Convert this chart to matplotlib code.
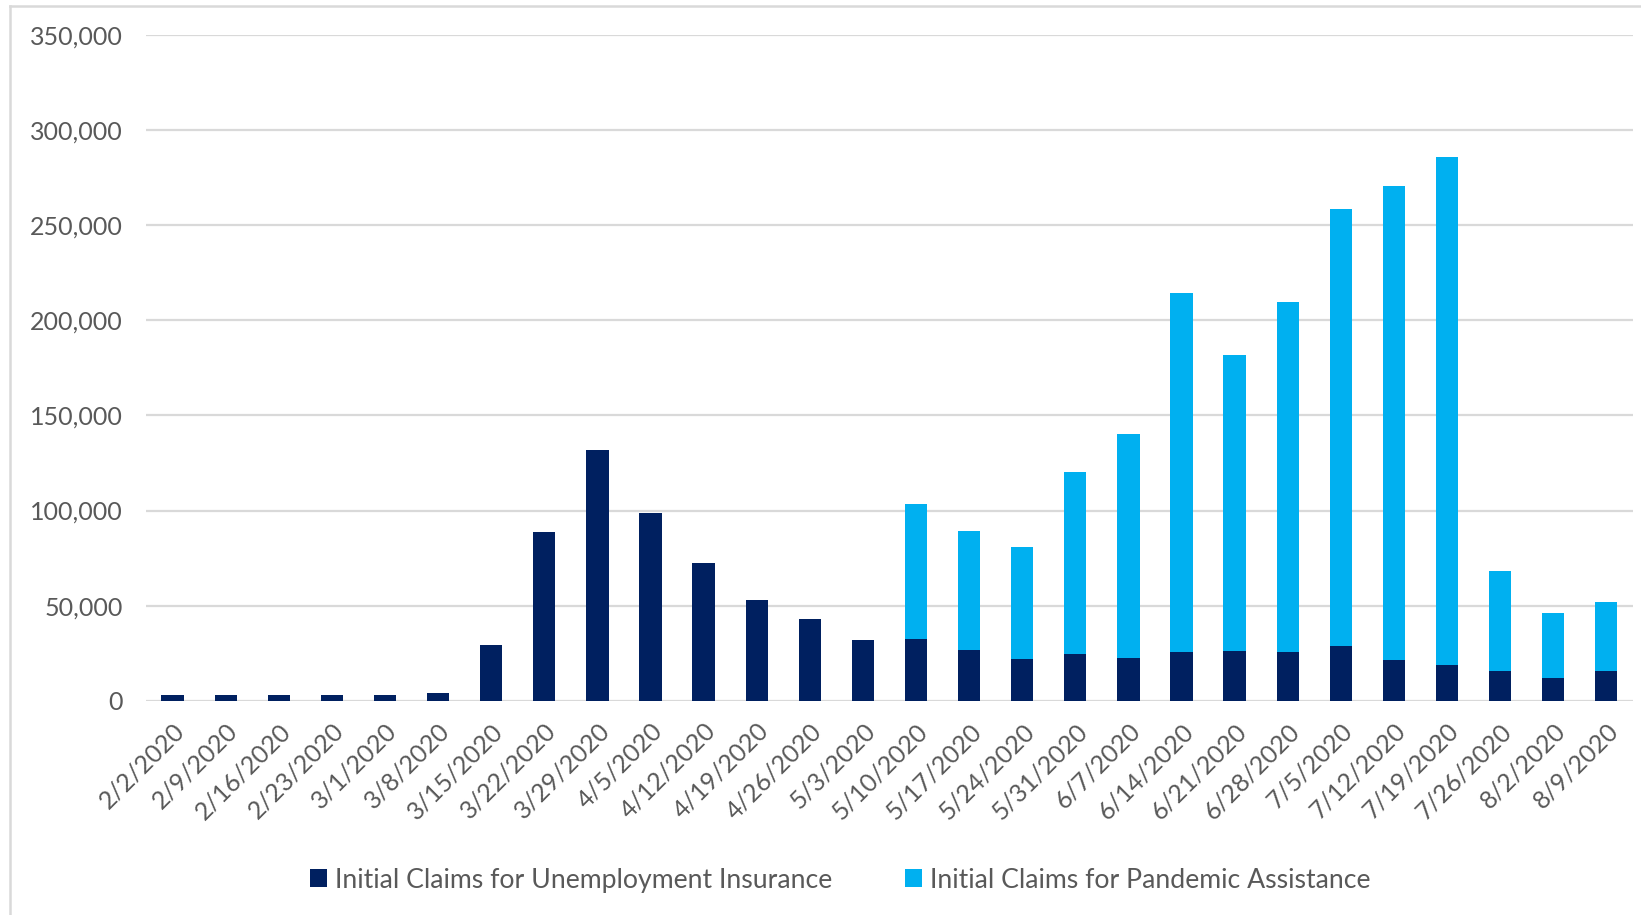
import matplotlib.pyplot as plt
from matplotlib.lines import Line2D
from matplotlib.ticker import FuncFormatter
import numpy as np

plt.rcParams['font.family'] = ['Lato', 'DejaVu Sans']

# --- data ---
weeks = ["2/2/2020", "2/9/2020", "2/16/2020", "2/23/2020", "3/1/2020", "3/8/2020",
         "3/15/2020", "3/22/2020", "3/29/2020", "4/5/2020", "4/12/2020", "4/19/2020",
         "4/26/2020", "5/3/2020", "5/10/2020", "5/17/2020", "5/24/2020", "5/31/2020",
         "6/7/2020", "6/14/2020", "6/21/2020", "6/28/2020", "7/5/2020", "7/12/2020",
         "7/19/2020", "7/26/2020", "8/2/2020", "8/9/2020"]

ui_claims = [3300, 3300, 3300, 3300, 3300, 4000, 29400, 88600, 132000, 98500,
             72600, 53000, 43100, 31900, 32400, 26900, 22200, 24500, 22700, 25700,
             26400, 25700, 28900, 21700, 19000, 15500, 12000, 15500]

pua_claims = [0, 0, 0, 0, 0, 0, 0, 0, 0, 0,
              0, 0, 0, 0, 71000, 62200, 58700, 96000, 117600, 188700,
              155300, 184000, 229700, 248700, 266600, 52500, 34300, 36600]

navy = "#002060"
sky = "#00B0F0"
grid_col = "#D9D9D9"
text_col = "#595959"

fig = plt.figure(figsize=(16.41, 9.15), dpi=100)
ax = fig.add_axes([0.089, 0.234, 0.906, 0.728])

x = np.arange(len(weeks))
w = 0.42
ax.bar(x, ui_claims, width=w, color=navy, label="Initial Claims for Unemployment Insurance", zorder=3)
ax.bar(x, pua_claims, width=w, bottom=ui_claims, color=sky,
       label="Initial Claims for Pandemic Assistance", zorder=3)

ax.set_xlim(-0.5, len(weeks) - 0.5)
ax.set_ylim(0, 350000)
ax.set_yticks(np.arange(0, 350001, 50000))
ax.yaxis.set_major_formatter(FuncFormatter(lambda v, p: f"{int(v):,}"))
ax.grid(True, axis="y", color=grid_col, linewidth=1.6, zorder=0)

for s in ax.spines.values():
    s.set_visible(False)
ax.tick_params(axis="both", length=0, labelsize=18, labelcolor=text_col)
ax.tick_params(axis="y", pad=17)
ax.set_xticks(x)
ax.set_xticklabels(weeks, rotation=45, ha="right", rotation_mode="anchor")
ax.tick_params(axis="x", pad=13)

# legend at the bottom
fig.legend(loc="center", bbox_to_anchor=(0.512, 0.038), ncol=2, frameon=False,
           fontsize=19.2, labelcolor=text_col, handlelength=0.65, handleheight=0.65,
           handletextpad=0.3, columnspacing=2.7)

# light outer chart border (left and top edges visible)
fig.add_artist(Line2D([10 / 1641, 10 / 1641], [0, 1 - 6 / 915], transform=fig.transFigure,
                      color=grid_col, linewidth=1.8))
fig.add_artist(Line2D([10 / 1641, 1], [1 - 6 / 915, 1 - 6 / 915], transform=fig.transFigure,
                      color=grid_col, linewidth=1.8))

fig.savefig("out.png", dpi=100)
